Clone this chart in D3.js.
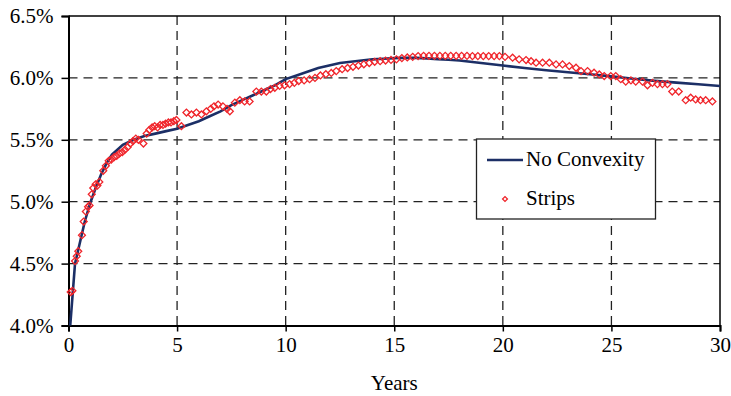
<!DOCTYPE html>
<html><head><meta charset="utf-8">
<script src="https://cdn.jsdelivr.net/npm/d3@7"></script>
<style>
body{margin:0;background:#fff}
svg{display:block}
</style></head>
<body><svg id="c" width="731" height="396"></svg>
<script>
const xTicks=[0,5,10,15,20,25,30];
const yTicks=[4.0,4.5,5.0,5.5,6.0,6.5];
const seriesNames=["No Convexity","Strips"];
const xTitle="Years";

const curveYears=[0.08,0.3,0.5,0.75,1.0,1.25,1.5,1.75,2.0,2.5,3.0,3.5,4.0,4.5,5.0,5.5,6.0,6.5,7.0,7.5,8.0,8.5,9.0,9.5,10.0,10.5,11.0,11.5,12.0,12.5,13.0,13.5,14.0,14.5,15.0,15.5,16.0,16.5,17.0,17.5,18.0,18.5,19.0,19.5,20.0,21,22,23,24,25,26,27,28,29,30];
const curveYields=[4.00,4.50,4.65,4.84,4.99,5.11,5.22,5.31,5.38,5.46,5.50,5.53,5.55,5.57,5.59,5.62,5.65,5.69,5.73,5.78,5.82,5.86,5.90,5.94,5.99,6.02,6.05,6.08,6.10,6.12,6.13,6.14,6.15,6.155,6.16,6.163,6.162,6.158,6.152,6.146,6.14,6.13,6.12,6.11,6.10,6.08,6.062,6.045,6.03,6.012,5.993,5.976,5.962,5.949,5.935];

const stripYears=[0.10,0.18,0.30,0.38,0.45,0.62,0.70,0.80,0.90,0.97,1.07,1.14,1.25,1.33,1.42,1.60,1.72,1.85,1.97,2.10,2.22,2.35,2.48,2.60,2.72,2.85,2.97,3.10,3.22,3.45,3.60,3.72,3.85,3.97,4.10,4.22,4.35,4.47,4.60,4.72,4.85,4.97,5.20,5.43,5.66,5.89,6.12,6.35,6.55,6.70,6.89,7.11,7.30,7.43,7.66,7.89,8.11,8.34,8.65,8.88,9.11,9.30,9.50,9.72,9.95,10.18,10.40,10.60,10.85,11.10,11.35,11.60,11.85,12.10,12.33,12.60,12.85,13.10,13.35,13.60,13.85,14.10,14.35,14.60,14.85,15.10,15.35,15.60,15.85,16.10,16.35,16.60,16.85,17.10,17.35,17.60,17.85,18.10,18.35,18.60,18.85,19.10,19.35,19.60,19.84,20.10,20.45,20.75,21.07,21.30,21.53,21.83,22.14,22.45,22.75,23.06,23.37,23.60,23.90,24.20,24.44,24.67,24.97,25.20,25.43,25.66,25.90,26.12,26.43,26.66,26.89,27.12,27.35,27.58,27.80,28.10,28.42,28.65,28.88,29.10,29.34,29.65];
const stripYields=[4.27,4.28,4.52,4.56,4.60,4.73,4.84,4.92,4.96,4.97,5.06,5.11,5.14,5.13,5.16,5.25,5.29,5.33,5.34,5.36,5.37,5.39,5.40,5.42,5.44,5.47,5.49,5.51,5.50,5.47,5.55,5.58,5.60,5.61,5.60,5.62,5.62,5.63,5.64,5.64,5.65,5.66,5.61,5.72,5.705,5.72,5.705,5.73,5.75,5.77,5.785,5.77,5.75,5.73,5.80,5.82,5.81,5.81,5.89,5.89,5.89,5.91,5.92,5.935,5.94,5.95,5.96,5.975,5.98,5.99,6.00,6.02,6.03,6.04,6.055,6.07,6.08,6.09,6.10,6.11,6.12,6.13,6.135,6.14,6.145,6.15,6.16,6.165,6.17,6.176,6.178,6.178,6.178,6.178,6.178,6.178,6.178,6.178,6.178,6.176,6.176,6.176,6.176,6.176,6.176,6.17,6.163,6.15,6.144,6.135,6.123,6.123,6.123,6.109,6.109,6.096,6.082,6.055,6.055,6.042,6.028,6.015,6.015,6.015,5.99,5.97,5.98,5.97,5.97,5.94,5.96,5.95,5.95,5.95,5.89,5.89,5.82,5.84,5.826,5.82,5.82,5.81];

const FONT='"Liberation Serif", "Times New Roman", serif';
const FS=21;
const svg=d3.select("#c");
const L=68.5,R=720,T=16,B=325.5;
const x=d3.scaleLinear().domain([0,30]).range([L,R]);
const y=d3.scaleLinear().domain([4.0,6.5]).range([B,T]);
const fmtY=d=>d3.format(".1f")(d)+"%";

// grid
const grid=svg.append("g").attr("stroke","#222").attr("stroke-width",1.3).attr("stroke-dasharray","9,6");
grid.selectAll("line.h").data(yTicks.filter(d=>d>4.0&&d<6.5)).join("line")
  .attr("x1",L).attr("x2",R).attr("y1",d=>y(d)).attr("y2",d=>y(d));
grid.selectAll("line.v").data(xTicks.filter(d=>d>0&&d<30)).join("line")
  .attr("y1",T).attr("y2",B).attr("x1",d=>x(d)).attr("x2",d=>x(d));

// frame top/right
svg.append("line").attr("x1",L).attr("x2",R).attr("y1",T).attr("y2",T).attr("stroke","#000").attr("stroke-width",1.5);
svg.append("line").attr("x1",R).attr("x2",R).attr("y1",T).attr("y2",B).attr("stroke","#000").attr("stroke-width",1.5);

// axes
const ax=svg.append("g").attr("transform",`translate(0,${B})`)
  .call(d3.axisBottom(x).tickValues(xTicks).tickSize(6).tickPadding(6).tickFormat(d3.format("d")));
const ay=svg.append("g").attr("transform",`translate(${L},0)`)
  .call(d3.axisLeft(y).tickValues(yTicks).tickSize(7).tickPadding(8).tickFormat(fmtY));
[ax,ay].forEach(g=>{
  g.attr("font-family",null).attr("font-size",null);
  g.select(".domain").attr("stroke","#000").attr("stroke-width",2);
  g.selectAll(".tick line").attr("stroke","#000").attr("stroke-width",1.5);
  g.selectAll("text").style("font-family",FONT).style("font-size",FS+"px").attr("fill","#000");
});

svg.append("text").attr("x",(L+R)/2).attr("y",390).attr("text-anchor","middle")
  .style("font-family",FONT).style("font-size",FS+"px").text(xTitle);

// line
const curve=curveYears.map((t,i)=>[t,curveYields[i]]);
svg.append("path").datum(curve).attr("fill","none").attr("stroke","#1c2f66").attr("stroke-width",2.6)
  .attr("d",d3.line().x(d=>x(d[0])).y(d=>y(d[1])));

// strips
const strips=stripYears.map((t,i)=>[t,stripYields[i]]);
const sym=d3.symbol(d3.symbolSquare,24);
svg.append("g").selectAll("path").data(strips).join("path")
  .attr("d",sym).attr("transform",d=>`translate(${x(d[0])},${y(d[1])}) rotate(45)`)
  .attr("fill","none").attr("stroke","#f0262c").attr("stroke-width",1.3);

// legend
const lg=svg.append("g");
lg.append("rect").attr("x",476.5).attr("y",139).attr("width",179).attr("height",80)
  .attr("fill","#fff").attr("stroke","#222").attr("stroke-width",1.3);
lg.append("line").attr("x1",487).attr("x2",523).attr("y1",160).attr("y2",160).attr("stroke","#1c2f66").attr("stroke-width",2.6);
lg.append("text").attr("x",526).attr("y",166).style("font-family",FONT).style("font-size",FS+"px").text(seriesNames[0]);
lg.append("path").attr("d",d3.symbol(d3.symbolSquare,12)).attr("transform","translate(505,199) rotate(45)")
  .attr("fill","none").attr("stroke","#f0262c").attr("stroke-width",1.3);
lg.append("text").attr("x",526).attr("y",205).style("font-family",FONT).style("font-size",FS+"px").text(seriesNames[1]);
</script></body></html>
